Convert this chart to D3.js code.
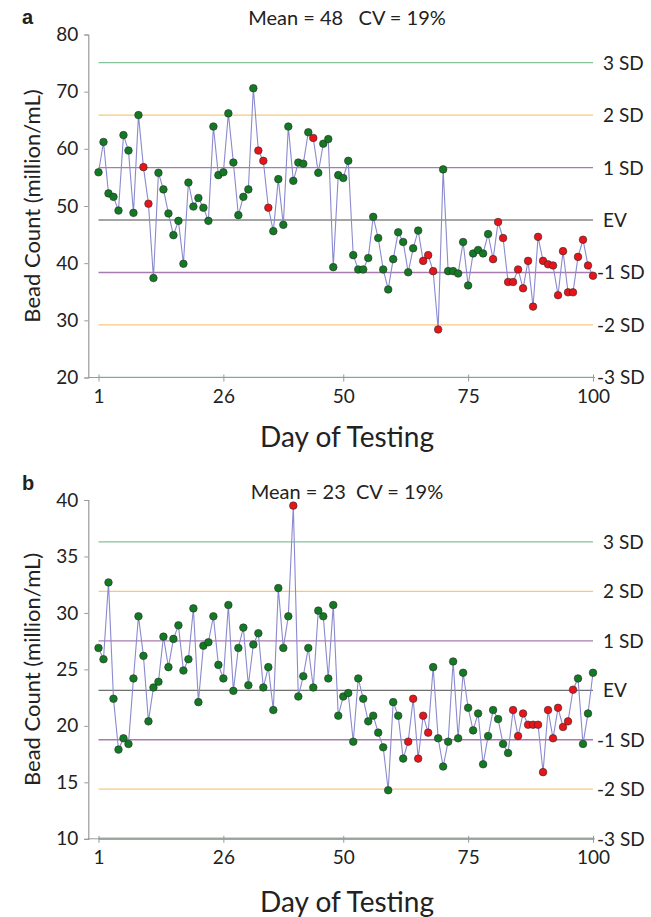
<!DOCTYPE html>
<html>
<head>
<meta charset="utf-8">
<script src="https://cdn.jsdelivr.net/npm/d3@7"></script>
<style>
  html, body { margin: 0; padding: 0; background: #fff; }
  svg text { font-family: Lato, "Open Sans", sans-serif; fill: #222; }
</style>
</head>
<body>
<svg id="chart" width="651" height="917"></svg>
<script>
// ---------- data ----------
const xTickLabels = [1, 26, 50, 75, 100];
const sdLabels = ["3 SD", "2 SD", "1 SD", "EV", "-1 SD", "-2 SD", "-3 SD"];
const sdMultipliers = [3, 2, 1, 0, -1, -2, -3];

// Panel a
const titleA = "Mean = 48   CV = 19%";
const yTicksA = [20, 30, 40, 50, 60, 70, 80];
const evA = 47.55, sdA = 9.18;
const valuesA = [
  55.9, 61.2, 52.2, 51.6, 49.2, 62.4, 59.7, 48.8, 65.9, 56.8,
  50.4, 37.4, 55.8, 52.9, 48.7, 44.9, 47.4, 39.9, 54.1, 49.9,
  51.4, 49.7, 47.4, 63.9, 55.4, 55.9, 66.2, 57.6, 48.4, 51.6,
  52.9, 70.6, 59.7, 57.9, 49.7, 45.6, 54.7, 46.7, 63.9, 54.4,
  57.6, 57.4, 62.9, 61.9, 55.8, 60.9, 61.7, 39.3, 55.4, 54.9,
  57.9, 41.4, 38.9, 38.9, 40.9, 48.1, 44.4, 38.9, 35.4, 40.7,
  45.4, 43.7, 38.4, 42.6, 45.7, 40.4, 41.4, 38.6, 28.4, 56.4,
  38.6, 38.6, 38.2, 43.7, 36.1, 41.7, 42.3, 41.7, 45.1, 40.7,
  47.2, 44.4, 36.7, 36.7, 38.9, 35.6, 40.4, 32.4, 44.6, 40.4,
  39.8, 39.6, 34.4, 42.1, 34.9, 34.9, 41.1, 44.1, 39.6, 37.8
];
const redDaysA = [10, 11, 33, 34, 35, 44, 66, 67, 68, 69,
  80, 81, 82, 83, 84, 85, 86, 87, 88, 89, 90, 91, 92, 93, 94, 95, 96, 97, 98, 99, 100];

// Panel b
const titleB = "Mean = 23  CV = 19%";
const yTicksB = [10, 15, 20, 25, 30, 35, 40];
const evB = 23.15, sdB = 4.38;
const valuesB = [
  26.9, 25.9, 32.7, 22.4, 17.9, 18.9, 18.4, 24.2, 29.7, 26.2,
  20.4, 23.4, 23.9, 27.9, 25.2, 27.7, 28.9, 24.9, 25.9, 30.4,
  22.1, 27.1, 27.4, 29.7, 25.4, 24.2, 30.7, 23.1, 26.9, 28.7,
  23.6, 27.2, 28.2, 23.4, 25.2, 21.4, 32.2, 26.9, 29.7, 39.5,
  22.6, 24.4, 26.9, 23.4, 30.2, 29.7, 24.2, 30.7, 20.9, 22.6,
  22.9, 18.6, 24.2, 22.4, 20.4, 20.9, 19.4, 18.1, 14.3, 22.1,
  20.9, 17.1, 18.6, 22.4, 17.1, 20.9, 19.4, 25.2, 18.9, 16.4,
  18.6, 25.7, 18.9, 24.7, 21.6, 19.6, 21.1, 16.6, 19.1, 21.4,
  20.6, 18.4, 17.6, 21.4, 19.1, 21.1, 20.1, 20.1, 20.1, 15.9,
  21.4, 18.9, 21.6, 19.9, 20.4, 23.2, 24.2, 18.4, 21.1, 24.7
];
const redDaysB = [40, 63, 64, 65, 66, 67, 84, 85, 86, 87, 88, 89, 90, 91, 92, 93, 94, 95, 96];

// ---------- drawing ----------
const svg = d3.select("#chart");
const sdColors = {3: "#86c29a", 2: "#f8c77e", 1: "#a87bb0", 0: "#4a4a4a"};

function drawPanel(cfg) {
  const g = svg.append("g");
  const x = d3.scaleLinear().domain([1, 100]).range([98.5, 593]);
  const y = d3.scaleLinear().domain(cfg.yDomain).range([cfg.yBottom, cfg.yTop]);
  const axisX = 88.3;

  // panel letter
  g.append("text").attr("x", 22).attr("y", cfg.letterY)
    .style("font-family", "Arial, 'Liberation Sans', sans-serif")
    .style("font-weight", "bold").style("font-size", "20px").text(cfg.letter);
  // title
  g.append("text").attr("x", 347).attr("y", cfg.titleY).attr("text-anchor", "middle")
    .style("font-size", "20px").style("white-space", "pre").attr("xml:space", "preserve")
    .text(cfg.title);

  // y axis
  const yAxis = d3.axisLeft(y).tickValues(cfg.yTicks).tickSize(4).tickPadding(6)
    .tickFormat(d3.format("d"));
  const ya = g.append("g").attr("transform", `translate(${axisX},0)`).call(yAxis);
  ya.select(".domain").attr("stroke", "#9a9a9a").attr("stroke-width", 1.2);
  ya.selectAll(".tick line").attr("stroke", "#9a9a9a");
  ya.selectAll(".tick text").style("font-size", "19px").style("font-family", "Lato, sans-serif").attr("fill", "#222");

  // SD reference lines
  sdMultipliers.forEach((m, i) => {
    const v = cfg.ev + m * cfg.sd;
    const col = sdColors[Math.abs(m)];
    g.append("line").attr("x1", x(1)).attr("x2", x(100))
      .attr("y1", y(v)).attr("y2", y(v))
      .attr("stroke", col).attr("stroke-width", m === 0 ? 1 : (m === -3 ? cfg.bottomLineW : 1.3));
    g.append("text").attr("x", m < 0 ? 597 : 603).attr("y", y(v) + 7)
      .style("font-size", "19px").text(sdLabels[i]);
  });

  // x axis
  const xAxis = d3.axisBottom(x).tickValues(xTickLabels).tickSize(4).tickPadding(8)
    .tickFormat(d3.format("d"));
  const xa = g.append("g").attr("transform", `translate(0,${cfg.yBottom})`).call(xAxis);
  xa.select(".domain").attr("stroke", "#9a9a9a").attr("d", `M${axisX},0H${x(100)+2}`);
  xa.selectAll(".tick line").attr("stroke", "#9a9a9a").attr("y1", -3).attr("y2", 4);
  xa.selectAll(".tick text").style("font-size", "19px").style("font-family", "Lato, sans-serif").attr("fill", "#222");

  // axis titles
  g.append("text").attr("x", 347).attr("y", cfg.yBottom + cfg.xTitleOff).attr("text-anchor", "middle")
    .style("font-size", "28px").text("Day of Testing");
  g.append("text")
    .attr("transform", `translate(40,${(cfg.yTop + cfg.yBottom) / 2}) rotate(-90)`)
    .attr("text-anchor", "middle").style("font-size", "22px").text("Bead Count (million/mL)");

  // data line
  const pts = cfg.values.map((v, i) => ({day: i + 1, v, red: cfg.red.includes(i + 1)}));
  g.append("path").datum(pts)
    .attr("d", d3.line().x(d => x(d.day)).y(d => y(d.v)))
    .attr("fill", "none").attr("stroke", "#8a8ad0").attr("stroke-width", 1.1);
  g.selectAll("circle.pt").data(pts).enter().append("circle")
    .attr("cx", d => x(d.day)).attr("cy", d => y(d.v)).attr("r", 3.8)
    .attr("fill", d => d.red ? "#e8141a" : "#117a22")
    .attr("stroke", "#2b2b2b").attr("stroke-width", 0.6);
}

drawPanel({letter: "a", letterY: 24, title: titleA, titleY: 25,
  yDomain: [20, 80], yTop: 34.5, yBottom: 377.5, yTicks: yTicksA,
  ev: evA, sd: sdA, values: valuesA, red: redDaysA, bottomLineW: 1.3, xTitleOff: 69});
drawPanel({letter: "b", letterY: 490, title: titleB, titleY: 499,
  yDomain: [10, 40], yTop: 500, yBottom: 838.8, yTicks: yTicksB,
  ev: evB, sd: sdB, values: valuesB, red: redDaysB, bottomLineW: 2.5, xTitleOff: 73});
</script>
</body>
</html>
